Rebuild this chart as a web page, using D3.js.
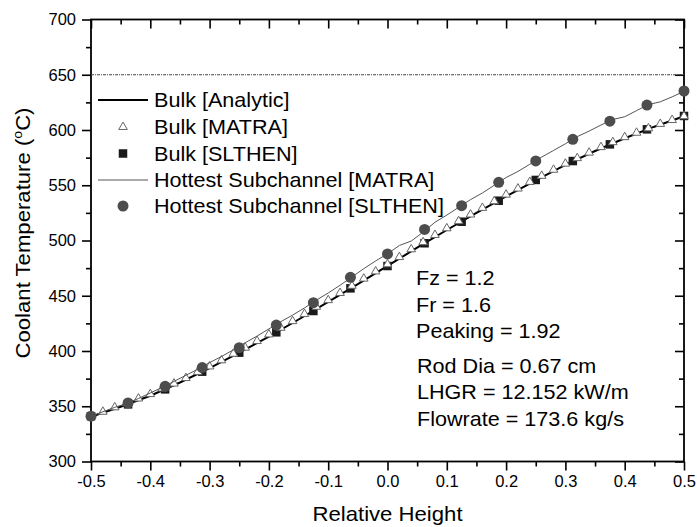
<!DOCTYPE html>
<html><head><meta charset="utf-8">
<script src="https://cdn.jsdelivr.net/npm/d3@7/dist/d3.min.js"></script>
<style>
html,body{margin:0;padding:0;background:#fff;}
text{font-family:"Liberation Sans",Arial,sans-serif;fill:#000;}
</style></head>
<body>
<svg id="c" width="697" height="527"></svg>
<script>
// ---- data ----
const xTicks = [-0.5,-0.4,-0.3,-0.2,-0.1,0.0,0.1,0.2,0.3,0.4,0.5];
const yTicks = [300,350,400,450,500,550,600,650,700];
const limitLine = 650;

// Bulk [Analytic] (every 0.05)
const analyticX = [-0.5,-0.45,-0.4,-0.35,-0.3,-0.25,-0.2,-0.15,-0.1,-0.05,0,0.05,0.1,0.15,0.2,0.25,0.3,0.35,0.4,0.45,0.5];
const analyticT = [340.5,349.5,359.5,371.5,384.5,398.5,413,428.5,444.5,460.5,477,493.5,509.5,525,540,554.5,568.5,581,592.5,603,612.5];

// MATRA results (every 0.02)
const matraX = [-0.5,-0.48,-0.46,-0.44,-0.42,-0.4,-0.38,-0.36,-0.34,-0.32,-0.3,-0.28,-0.26,-0.24,-0.22,-0.2,-0.18,-0.16,-0.14,-0.12,-0.1,-0.08,-0.06,-0.04,-0.02,0,0.02,0.04,0.06,0.08,0.1,0.12,0.14,0.16,0.18,0.2,0.22,0.24,0.26,0.28,0.3,0.32,0.34,0.36,0.38,0.4,0.42,0.44,0.46,0.48,0.5];
const matraBulk = [341,345,349,353,357,361,366,370.5,375.5,381,386,391.5,397.5,403,409,415,421,427,433.5,440,446,452.5,459,465.5,472,478.5,485,492,498.5,505,511,517.5,523.5,529.5,535.5,541.5,547,553,558.5,564,569.5,574.5,579.5,584.5,589,593.5,597.5,601.5,605.5,609,612.5];
const matraHot = [341,345,349,352.5,357,362,367,372.5,378,383.5,389.5,395,401,407.5,413.5,420,426.5,432.5,439,446,452.5,459.5,467,474.5,481.5,488,495.5,499.5,507.5,516.5,523,530,537,543,550,557,562.5,569,575.5,581.5,587.5,594,599,604.5,609.5,612,617.5,623,625.5,630,635];

// SLTHEN results (every 1/16)
const slthenX = [-0.5,-0.4375,-0.375,-0.3125,-0.25,-0.1875,-0.125,-0.0625,0,0.0625,0.125,0.1875,0.25,0.3125,0.375,0.4375,0.5];
const slthenBulk = [341,351.7,365.3,381.3,398.5,416.9,436.2,456.7,476.9,497.5,517,536,554.8,571.9,587,600.6,612.7];
const slthenHot = [341,353,368,385,403,423.5,443.7,466.7,487.8,510,531.5,552.7,572,591.6,608,622.6,635.3];

const legendLabels = ["Bulk [Analytic]","Bulk [MATRA]","Bulk [SLTHEN]","Hottest Subchannel [MATRA]","Hottest Subchannel [SLTHEN]"];
const notes1 = ["Fz = 1.2","Fr = 1.6","Peaking = 1.92"];
const notes2 = ["Rod Dia = 0.67 cm","LHGR = 12.152 kW/m","Flowrate = 173.6 kg/s"];

// ---- chart ----
const svg = d3.select("#c");
const x = d3.scaleLinear().domain([-0.5,0.5]).range([91,684]);
const y = d3.scaleLinear().domain([300,700]).range([461.5,19.5]);
const L = x.range()[0], R = x.range()[1], B = y.range()[0], T = y.range()[1];

const minorX = d3.range(-0.45,0.5,0.1);
const minorY = d3.range(325,700,50);
const SX = 1.08; // horizontal stretch of the original lettering

function label(parent, px, py, str, size, anchor, rot){
  return parent.append("text")
    .attr("transform", `translate(${px},${py})` + (rot ? ` rotate(${rot})` : "") + ` scale(${SX},1)`)
    .attr("font-size", size).attr("text-anchor", anchor || "start").text(str);
}

// axes
const fmt = d => d3.format(".1f")(d).replace("\u2212","-");
const gB = svg.append("g").attr("transform",`translate(0,${B})`)
  .call(d3.axisBottom(x).tickValues(xTicks).tickFormat(fmt).tickSize(9).tickPadding(5));
const gBm = svg.append("g").attr("transform",`translate(0,${B})`)
  .call(d3.axisBottom(x).tickValues(minorX).tickFormat("").tickSize(5));
const gL = svg.append("g").attr("transform",`translate(${L},0)`)
  .call(d3.axisLeft(y).tickValues(yTicks).tickFormat(d3.format("d")).tickSize(9).tickPadding(6));
const gLm = svg.append("g").attr("transform",`translate(${L},0)`)
  .call(d3.axisLeft(y).tickValues(minorY).tickFormat("").tickSize(5));
const gT = svg.append("g").attr("transform",`translate(0,${T})`)
  .call(d3.axisBottom(x).tickValues(xTicks).tickFormat("").tickSize(9));
const gTm = svg.append("g").attr("transform",`translate(0,${T})`)
  .call(d3.axisBottom(x).tickValues(minorX).tickFormat("").tickSize(5));
const gR = svg.append("g").attr("transform",`translate(${R},0)`)
  .call(d3.axisLeft(y).tickValues(yTicks).tickFormat("").tickSize(9));
const gRm = svg.append("g").attr("transform",`translate(${R},0)`)
  .call(d3.axisLeft(y).tickValues(minorY).tickFormat("").tickSize(5));
[gB,gBm,gL,gLm,gT,gTm,gR,gRm].forEach(g=>{
  g.select(".domain").remove();
  g.selectAll(".tick line").attr("stroke","#000").attr("stroke-width",1.6);
  g.selectAll("text").attr("font-size",16.5).attr("font-family","Liberation Sans, Arial, sans-serif").attr("fill","#000");
});
svg.append("rect").attr("x",L).attr("y",T).attr("width",R-L).attr("height",B-T)
  .attr("fill","none").attr("stroke","#000").attr("stroke-width",1.8);

// 650 limit line
svg.append("line").attr("x1",L).attr("x2",R).attr("y1",y(limitLine)).attr("y2",y(limitLine))
  .attr("stroke","#444").attr("stroke-width",1).attr("stroke-dasharray","3,1,1,1");

// analytic line
const line = d3.line().x(d=>x(d[0])).y(d=>y(d[1]));
svg.append("path").datum(analyticX.map((v,i)=>[v,analyticT[i]]))
  .attr("d",line).attr("fill","none").attr("stroke","#000").attr("stroke-width",2);

// SLTHEN bulk squares
const sq = 8.5;
svg.append("g").selectAll("rect").data(slthenX.map((v,i)=>[v,slthenBulk[i]])).join("rect")
  .attr("x",d=>x(d[0])-sq/2).attr("y",d=>y(d[1])-sq/2).attr("width",sq).attr("height",sq)
  .attr("fill","#1a1a1a");

// MATRA bulk triangles
const tri = d3.symbol().type(d3.symbolTriangle).size(32);
svg.append("g").selectAll("path").data(matraX.map((v,i)=>[v,matraBulk[i]])).join("path")
  .attr("d",tri).attr("transform",d=>`translate(${x(d[0])},${y(d[1])})`)
  .attr("fill","#fff").attr("stroke","#666").attr("stroke-width",1);

// MATRA hottest line
svg.append("path").datum(matraX.map((v,i)=>[v,matraHot[i]]))
  .attr("d",line).attr("fill","none").attr("stroke","#555").attr("stroke-width",1);

// SLTHEN hottest circles
svg.append("g").selectAll("circle").data(slthenX.map((v,i)=>[v,slthenHot[i]])).join("circle")
  .attr("cx",d=>x(d[0])).attr("cy",d=>y(d[1])).attr("r",5.5).attr("fill","#4d4d4d");

// legend
const lg = svg.append("g");
const rowY = [100,127,153.5,180,206];
const symX = 123, txtX = 154;
lg.append("line").attr("x1",98).attr("x2",148).attr("y1",rowY[0]).attr("y2",rowY[0]).attr("stroke","#000").attr("stroke-width",2);
lg.append("path").attr("d",tri).attr("transform",`translate(${symX},${rowY[1]})`).attr("fill","#fff").attr("stroke","#666");
lg.append("rect").attr("x",symX-sq/2).attr("y",rowY[2]-sq/2).attr("width",sq).attr("height",sq).attr("fill","#1a1a1a");
lg.append("line").attr("x1",98).attr("x2",148).attr("y1",rowY[3]).attr("y2",rowY[3]).attr("stroke","#555").attr("stroke-width",1);
lg.append("circle").attr("cx",symX).attr("cy",rowY[4]).attr("r",5.5).attr("fill","#4d4d4d");
legendLabels.forEach((s,i)=>label(lg, txtX, rowY[i]+7, s, 20));

// notes
const ng = svg.append("g");
notes1.forEach((s,i)=>label(ng, 416, 285+i*26.5, s, 20));
notes2.forEach((s,i)=>label(ng, 417, 372.5+i*26.7, s, 20));

// axis titles
label(svg, (L+R)/2, 521, "Relative Height", 20.5, "middle");
const yt = svg.append("text").attr("transform",`translate(30,233) rotate(-90) scale(${SX},1)`)
  .attr("text-anchor","middle").attr("font-size",20.5);
yt.append("tspan").text("Coolant Temperature (");
yt.append("tspan").attr("font-size",13).attr("dy",-8).text("o");
yt.append("tspan").attr("dy",8).text("C)");
</script>
</body></html>
